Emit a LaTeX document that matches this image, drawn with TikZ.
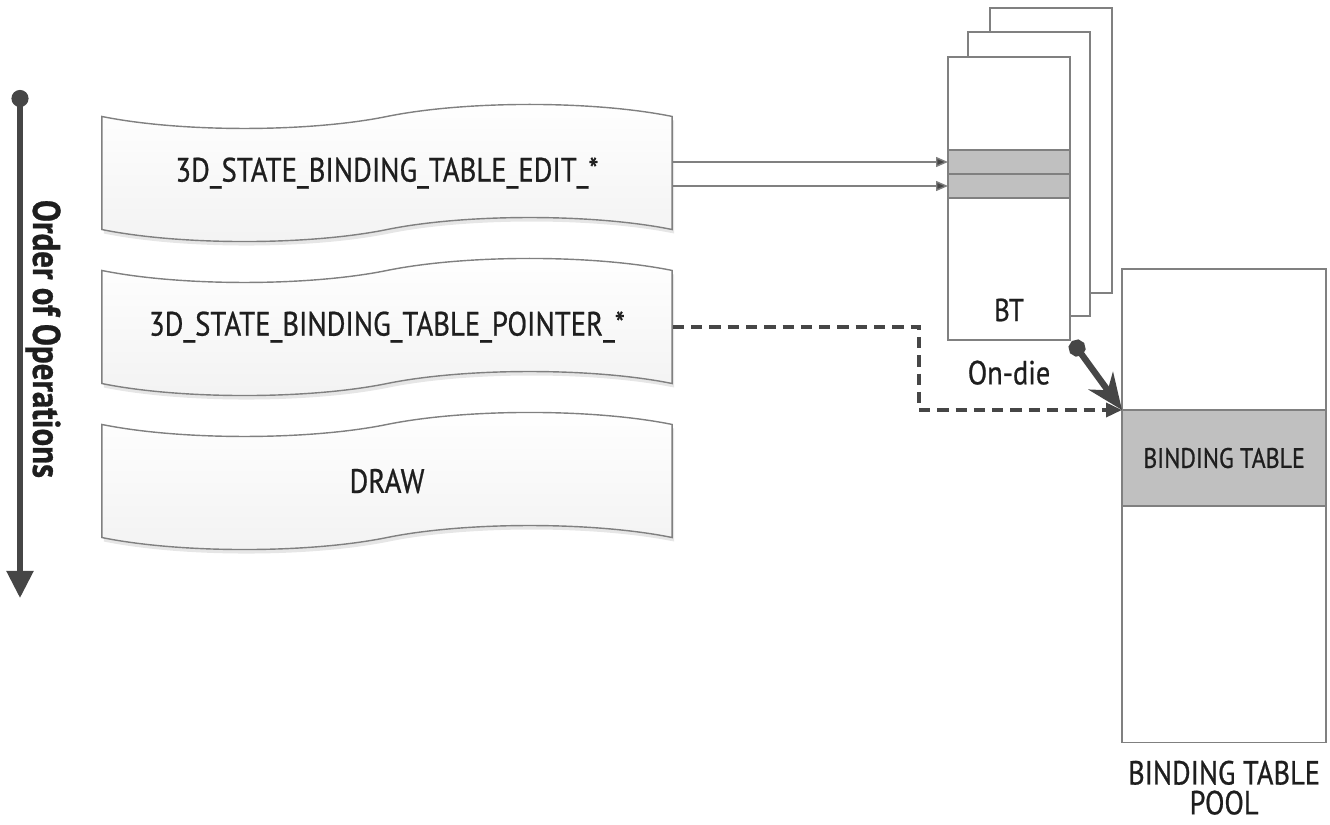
\documentclass[tikz,border=0pt]{standalone}
\usepackage{fontspec}
\setmainfont[FakeStretch=0.85, FakeBold=0.7]{PT Sans}
\usetikzlibrary{positioning, shapes.symbols, arrows.meta, shadows}

\definecolor{linegray}{HTML}{808080}
\definecolor{darkline}{HTML}{464646}
\definecolor{bandgray}{HTML}{C0C0C0}
\definecolor{inkgray}{HTML}{1E1E1E}

\tikzset{
  cmdtape/.style={tape, draw=linegray, top color=white, bottom color=gray!10,
    minimum width=5.7cm, minimum height=1.37cm, tape bend height=0.24cm, inner sep=0pt,
    text=inkgray, font=\fontsize{9.6}{11}\selectfont,
    drop shadow={shadow xshift=0.02cm, shadow yshift=-0.04cm, opacity=0.2}},
  memblock/.style={draw=linegray, fill=white, anchor=north west, inner sep=0pt, outer sep=0pt},
  slot/.style={memblock, fill=bandgray, draw=gray},
  thinarrow/.style={draw=gray, -{Triangle[length=0.12cm, width=0.1cm, fill=darkline]}},
  ptrline/.style={draw=darkline, line width=1pt, dash pattern=on 3.2pt off 2pt, -{Triangle[length=0.16cm, width=0.14cm]}},
  bigarrow/.style={draw=darkline, line width=1.8pt, {Circle[length=0.17cm]}-{Stealth[length=0.36cm, width=0.3cm]}},
  orderline/.style={draw=darkline, line width=1.5pt, {Circle[length=0.17cm]}-{Triangle[length=0.27cm, width=0.26cm]}}
}

\begin{document}
\begin{tikzpicture}[x=0.01cm, y=-0.01cm, text=inkgray]
  \useasboundingbox (0,0) rectangle (1330,825);

  % order of operations
  \coordinate (first) at (20,90);
  \coordinate (last) at (20,598);
  \draw[orderline] (first) -- (last);
  \node[rotate=-90, font=\fontsize{11}{13}\selectfont\bfseries] (orderlabel) at (43,339) {Order of Operations};

  % commands
  \node[cmdtape] (edit) at (387,173) {3D\_STATE\_BINDING\_TABLE\_EDIT\_*};
  \node[cmdtape] (pointer) at (387,327) {3D\_STATE\_BINDING\_TABLE\_POINTER\_*};
  \node[cmdtape] (drawop) at (387,481) {DRAW};

  % on-die binding tables
  \node[memblock, minimum width=1.22cm, minimum height=2.85cm] (btback) at (990,8) {};
  \node[memblock, minimum width=1.22cm, minimum height=2.84cm] (btmid) at (968,32) {};
  \node[memblock, minimum width=1.22cm, minimum height=2.83cm] (bt) at (948,57) {};
  \node[slot, minimum width=1.22cm, minimum height=0.24cm] (slotA) at (948,150) {};
  \node[slot, minimum width=1.22cm, minimum height=0.24cm] (slotB) at (948,174) {};
  \node[font=\fontsize{9}{11}\selectfont] (btname) at (1009,310) {BT};
  \node[below=0.08cm of bt, font=\fontsize{9.5}{11}\selectfont] (ondie) {On-die};

  % pool
  \node[memblock, minimum width=2.04cm, minimum height=4.73cm] (pool) at (1122,269) {};
  \node[slot, minimum width=2.04cm, minimum height=0.96cm, font=\fontsize{8}{10}\selectfont] (poolbt) at (1122,410) {BINDING TABLE};
  \node[below=0.06cm of pool, align=center, font=\fontsize{9.5}{8.5}\selectfont] (poolname) {BINDING TABLE\\POOL};

  % connectors
  \draw[thinarrow] (slotA.west -| edit.east) -- (slotA.west);
  \draw[thinarrow] (slotB.west -| edit.east) -- (slotB.west);
  \draw[ptrline] (pointer.east) -- ++(246,0) |- (poolbt.north west);
  \draw[bigarrow] ([shift={(2,1)}]bt.south east) -- (poolbt.north west);
\end{tikzpicture}
\end{document}
